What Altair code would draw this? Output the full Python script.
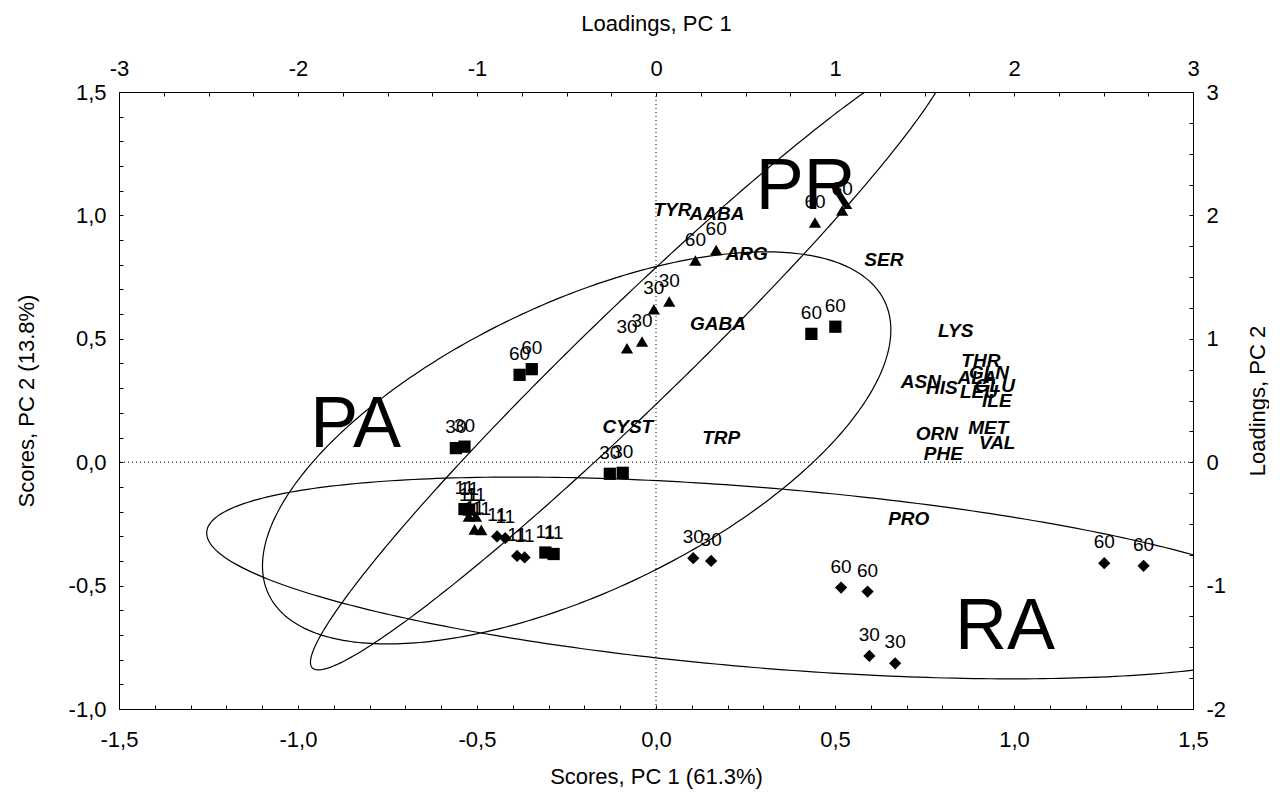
import altair as alt
import numpy as np
import pandas as pd

FONT = "Liberation Sans"

# ---------------- scores (PC1, PC2) ----------------
pr_x = [0.444, 0.520, 0.110, 0.168, -0.006, 0.037, -0.081, -0.039, -0.523, -0.503, -0.507, -0.488]
pr_y = [0.971, 1.020, 0.817, 0.860, 0.620, 0.651, 0.462, 0.489, -0.220, -0.220, -0.272, -0.274]
pr_lab = ["60", "60", "60", "60", "30", "30", "30", "30", "11", "11", "11", "11"]

pa_x = [0.434, 0.501, -0.381, -0.347, -0.559, -0.535, -0.129, -0.093, -0.535, -0.522, -0.309, -0.286]
pa_y = [0.520, 0.549, 0.354, 0.377, 0.057, 0.063, -0.047, -0.043, -0.190, -0.192, -0.366, -0.372]
pa_lab = ["60", "60", "60", "60", "30", "30", "30", "30", "11", "11", "11", "11"]

ra_x = [-0.444, -0.421, -0.388, -0.367, 0.104, 0.154, 0.517, 0.591, 0.596, 0.668, 1.252, 1.362]
ra_y = [-0.301, -0.308, -0.380, -0.386, -0.389, -0.400, -0.508, -0.524, -0.785, -0.815, -0.409, -0.420]
ra_lab = ["11", "11", "11", "11", "30", "30", "60", "60", "30", "30", "60", "60"]

# ---------------- loadings ----------------
load_names = ["TYR", "AABA", "ARG", "GABA", "SER", "LYS", "THR", "GLN", "ALA", "GLU",
              "LEU", "ILE", "HIS", "ASN", "MET", "VAL", "ORN", "PHE", "CYST", "TRP", "PRO"]
load_x = [0.092, 0.341, 0.507, 0.346, 1.273, 1.674, 1.815, 1.860, 1.793, 1.893,
          1.804, 1.904, 1.597, 1.480, 1.856, 1.906, 1.569, 1.605, -0.157, 0.364, 1.412]
load_y = [2.046, 2.015, 1.688, 1.119, 1.639, 1.066, 0.821, 0.724, 0.683, 0.618,
          0.570, 0.497, 0.602, 0.651, 0.276, 0.159, 0.229, 0.067, 0.284, 0.197, -0.459]

# ---------------- group labels ----------------
grp_names = ["PR", "PA", "RA"]
grp_x = [0.418, -0.839, 0.975]
grp_y = [1.025, 0.062, -0.758]

# ---------------- confidence ellipses (center + conjugate semi-diameters) ----------------
ell_group = ["PR", "PA", "RA"]
ell_cx = [-0.071, -0.2216, 0.302]
ell_cy = [0.4145, 0.058, -0.469]
ell_ux = [-0.872, 0.8776, 1.557]
ell_uy = [-1.256, 0.478, -0.182]
ell_vx = [0.198, 0.0, 0.0]
ell_vy = [0.0, 0.6345, 0.366]

# ---------------- tables ----------------
pts = pd.DataFrame({
    "x": pr_x + pa_x + ra_x,
    "y": pr_y + pa_y + ra_y,
    "lab": pr_lab + pa_lab + ra_lab,
    "grp": ["PR"] * len(pr_x) + ["PA"] * len(pa_x) + ["RA"] * len(ra_x),
})
loads = pd.DataFrame({"lx": load_x, "ly": load_y, "name": load_names})
grps = pd.DataFrame({"x": grp_x, "y": grp_y, "name": grp_names})

t = np.linspace(0, 2 * np.pi, 361)
rows = []
for g, cx, cy, ux, uy, vx, vy in zip(ell_group, ell_cx, ell_cy, ell_ux, ell_uy, ell_vx, ell_vy):
    for i, tt in enumerate(t):
        rows.append({"grp": g, "i": i,
                     "x": cx + ux * np.cos(tt) + vx * np.sin(tt),
                     "y": cy + uy * np.cos(tt) + vy * np.sin(tt)})
ell = pd.DataFrame(rows)
zero = pd.DataFrame({"v": [0.0]})

# ---------------- axes ----------------
sx_vals = [round(-1.5 + 0.1 * i, 2) for i in range(31)]
sy_vals = [round(-1.0 + 0.1 * i, 2) for i in range(26)]
lx_vals = [round(-3 + 0.25 * i, 2) for i in range(25)]
ly_vals = [round(-2 + 0.25 * i, 2) for i in range(21)]

score_lab = ("abs(datum.value*2 - round(datum.value*2)) < 0.01 ? "
             "(datum.value < -0.001 ? '-' : '') + replace(format(abs(datum.value), '.1f'), '.', ',') : ''")
load_lab = ("abs(datum.value - round(datum.value)) < 0.01 ? "
            "(datum.value < -0.001 ? '-' : '') + format(abs(datum.value), '.0f') : ''")

common = dict(labelOverlap=False, labelFlush=False, tickSize=alt.ExprRef(expr="-4"),
              grid=False)

x_axis = alt.Axis(values=sx_vals, labelExpr=score_lab, title="Scores, PC 1 (61.3%)",
                  orient="bottom", labelPadding=24, titlePadding=16, **common)
y_axis = alt.Axis(values=sy_vals, labelExpr=score_lab, title="Scores, PC 2 (13.8%)",
                  orient="left", labelPadding=17, titlePadding=30, **common)
lx_axis = alt.Axis(values=lx_vals, labelExpr=load_lab, title="Loadings, PC 1",
                   orient="top", labelPadding=16, titlePadding=22, **common)
ly_axis = alt.Axis(values=ly_vals, labelExpr=load_lab, title="Loadings, PC 2",
                   orient="right", labelPadding=17, titlePadding=44, titleAngle=-90, **common)

xs = alt.Scale(domain=[-1.5, 1.5], nice=False, zero=False)
ys = alt.Scale(domain=[-1.0, 1.5], nice=False, zero=False)

X = alt.X("x:Q", scale=xs, axis=x_axis)
Y = alt.Y("y:Q", scale=ys, axis=y_axis)

ellipses = alt.Chart(ell).mark_line(clip=True, color="black", strokeWidth=1.2).encode(
    x=X, y=Y, detail="grp:N", order="i:Q")

vrule = alt.Chart(zero).mark_rule(color="black", strokeWidth=1, strokeDash=[1, 3]).encode(
    x=alt.X("v:Q", scale=xs, axis=x_axis))
hrule = alt.Chart(zero).mark_rule(color="black", strokeWidth=1, strokeDash=[1, 3]).encode(
    y=alt.Y("v:Q", scale=ys, axis=y_axis))

points = alt.Chart(pts).mark_point(filled=True, color="black", opacity=1).encode(
    x=X, y=Y,
    shape=alt.Shape("grp:N", scale=alt.Scale(domain=["PR", "PA", "RA"],
                                             range=["triangle-up", "square", "diamond"]), legend=None),
    size=alt.Size("grp:N", scale=alt.Scale(domain=["PR", "PA", "RA"], range=[150, 150, 110]), legend=None),
)

point_labels = alt.Chart(pts).mark_text(font=FONT, fontSize=19, dy=-21, color="black").encode(
    x=X, y=Y, text="lab:N")

group_labels = alt.Chart(grps).mark_text(font=FONT, fontSize=72, baseline="alphabetic",
                                         align="center", color="black").encode(
    x=X, y=Y, text="name:N")

scores = alt.layer(ellipses, vrule, hrule, points, point_labels, group_labels)

loadings = alt.Chart(loads).mark_text(font=FONT, fontSize=19, fontStyle="italic",
                                      fontWeight="bold", color="black").encode(
    x=alt.X("lx:Q", scale=alt.Scale(domain=[-3, 3], nice=False, zero=False), axis=lx_axis),
    y=alt.Y("ly:Q", scale=alt.Scale(domain=[-2, 3], nice=False, zero=False), axis=ly_axis),
    text="name:N")

chart = alt.layer(scores, loadings).resolve_scale(x="independent", y="independent").properties(
    width=1074, height=617,
    padding={"left": 7, "top": 4, "right": 0, "bottom": 2},
    background="white",
).configure_axis(
    labelFont=FONT, titleFont=FONT, labelFontSize=22, titleFontSize=22,
    titleFontWeight="normal", labelColor="black", titleColor="black",
    domainColor="black", tickColor="black", domainWidth=1,
).configure_view(stroke=None)

chart.save("out.html", embed_options={"renderer": "svg", "actions": False})
